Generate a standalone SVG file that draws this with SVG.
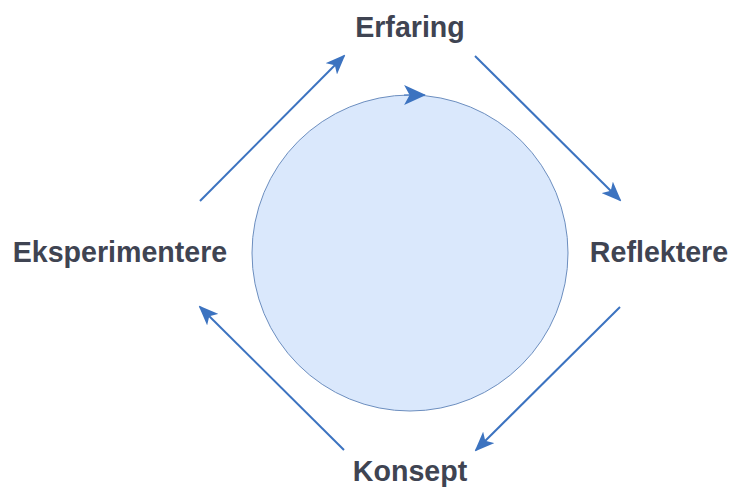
<svg xmlns="http://www.w3.org/2000/svg" width="731" height="490" viewBox="0 0 731 490">
  <style>
    .lbl { font-family: "Liberation Sans", Arial, sans-serif; font-weight: bold; font-size: 28.6px; fill: #3f4452; text-anchor: middle; }
    .edge { stroke: #3c73c0; stroke-width: 2; fill: none; }
  </style>
  <defs>
    <marker id="arrowBig" viewBox="0 0 20 16" refX="18" refY="8" markerWidth="20" markerHeight="16" markerUnits="userSpaceOnUse" orient="auto">
      <path d="M0,0 L20,8 L0,16 L5,8 Z" fill="#3c73c0"/>
    </marker>
    <marker id="arrowCycle" viewBox="0 0 20 18" refX="19" refY="9" markerWidth="22" markerHeight="20" markerUnits="userSpaceOnUse" orient="auto">
      <path d="M0,0 L20,9 L0,18 L5,9 Z" fill="#3c73c0"/>
    </marker>
  </defs>
  <rect width="731" height="490" fill="#ffffff"/>

  <g id="cycle">
    <circle cx="410" cy="253" r="158" fill="#dae8fc" stroke="#6c8ebf" stroke-width="1"/>
    <path d="M404,95 L425,95" stroke="#3c73c0" stroke-width="1" fill="none" marker-end="url(#arrowCycle)"/>
  </g>

  <g id="connectors">
    <line class="edge" x1="200" y1="201" x2="344" y2="56" marker-end="url(#arrowBig)"/>
    <line class="edge" x1="475" y1="56" x2="620" y2="200" marker-end="url(#arrowBig)"/>
    <line class="edge" x1="620" y1="307" x2="476" y2="450" marker-end="url(#arrowBig)"/>
    <line class="edge" x1="344" y1="450" x2="200" y2="307" marker-end="url(#arrowBig)"/>
  </g>

  <g id="erfaring"><text class="lbl" x="410" y="37">Erfaring</text></g>
  <g id="reflektere"><text class="lbl" x="659" y="262">Reflektere</text></g>
  <g id="konsept"><text class="lbl" x="410" y="481">Konsept</text></g>
  <g id="eksperimentere"><text class="lbl" x="120" y="262">Eksperimentere</text></g>
</svg>
